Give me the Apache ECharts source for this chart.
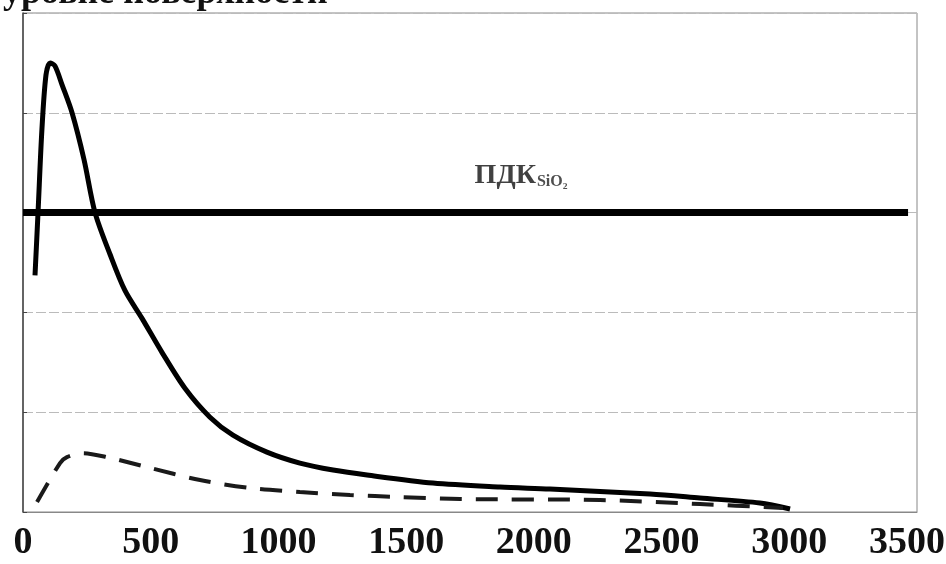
<!DOCTYPE html>
<html lang="ru">
<head>
    <meta charset="UTF-8">
    <title>ПДК</title>
    <script src="https://cdn.jsdelivr.net/npm/echarts@6/dist/echarts.min.js"></script>
    <style>
        html, body { margin: 0; padding: 0; background: #fff; }
    </style>
</head>
<body>
<div id="chart" style="width: 946px;height: 564px;"></div>
<script>
    // расстояние (ось X) и концентрация для сплошной кривой
    var solidX = [47, 59, 74, 90, 106, 125, 153, 192, 239, 282, 341, 399, 466, 544, 634, 732, 822, 955, 1084, 1214, 1347, 1605, 1867, 2063, 2455, 2650, 2885, 3003];
    var solidY = [2.37, 3.01, 3.83, 4.38, 4.50, 4.47, 4.28, 4.00, 3.53, 3.00, 2.58, 2.22, 1.94, 1.60, 1.24, 0.95, 0.77, 0.60, 0.49, 0.42, 0.37, 0.29, 0.25, 0.23, 0.18, 0.14, 0.09, 0.03];
    // пунктирная кривая
    var dashX = [55, 145, 172, 235, 329, 485, 693, 889, 1084, 1280, 1476, 1711, 2259, 2650, 2975];
    var dashY = [0.10, 0.49, 0.55, 0.59, 0.55, 0.45, 0.32, 0.24, 0.20, 0.17, 0.15, 0.13, 0.12, 0.08, 0.04];
    // уровень ПДК
    var pdkLevel = 3;
    var pdkX = [0, 3465];
    var pdkLabelPos = [1950, 3.37];

    function pairs(xs, ys) {
        return xs.map(function (x, i) { return [x, ys[i]]; });
    }

    var serif = '"Liberation Serif", "DejaVu Serif", serif';
    var xMax = 3500;

    var myChart = echarts.init(document.getElementById('chart'));
    var option = {
        backgroundColor: '#fff',
        animation: false,
        title: {
            text: 'уровне поверхности',
            left: -2,
            top: -29,
            textStyle: {
                fontFamily: serif,
                fontWeight: 'bold',
                fontSize: 36,
                color: '#111'
            }
        },
        grid: {
            left: 23,
            right: 29,
            top: 13,
            bottom: 52,
            outerBoundsMode: 'none',
            show: true,
            borderColor: '#888',
            borderWidth: 1
        },
        xAxis: {
            type: 'value',
            min: 0,
            max: xMax,
            interval: 500,
            axisLine: { lineStyle: { color: '#888', width: 1 } },
            axisTick: { show: false },
            splitLine: { show: false },
            axisLabel: {
                margin: 12,
                fontFamily: serif,
                fontWeight: 'bold',
                fontSize: 38,
                color: '#111',
                formatter: function (v) {
                    return v === xMax ? '{m|' + v + '}' : String(v);
                },
                rich: {
                    m: { fontFamily: serif, fontWeight: 'bold', fontSize: 38, color: '#111', padding: [0, 20, 0, 0] }
                }
            }
        },
        yAxis: {
            type: 'value',
            min: 0,
            max: 5,
            interval: 1,
            axisLine: { show: true, lineStyle: { color: '#444', width: 1.5 } },
            axisTick: { show: true, inside: true, length: 4, lineStyle: { color: '#444' } },
            axisLabel: { show: false },
            splitLine: {
                lineStyle: { color: '#bbb', width: 1, type: [10, 3] }
            }
        },
        series: [{
            name: 'ПДК',
            type: 'line',
            symbol: 'none',
            lineStyle: { color: '#000', width: 7 },
            data: pairs(pdkX, [pdkLevel, pdkLevel])
        }, {
            name: 'подпись',
            type: 'scatter',
            symbolSize: 0,
            silent: true,
            label: {
                show: true,
                position: 'inside',
                formatter: '{a|ПДК}{b|SiO₂}',
                rich: {
                    a: { fontFamily: serif, fontWeight: 'bold', fontSize: 28, color: '#111' },
                    b: { fontFamily: serif, fontWeight: 'bold', fontSize: 16, color: '#222', padding: [12, 0, 0, 1] }
                }
            },
            data: [pdkLabelPos]
        }, {
            name: 'сплошная',
            type: 'line',
            symbol: 'none',
            smooth: 0.3,
            lineStyle: { color: '#000', width: 5 },
            data: pairs(solidX, solidY)
        }, {
            name: 'пунктир',
            type: 'line',
            symbol: 'none',
            smooth: 0.3,
            lineStyle: { color: '#1a1a1a', width: 4, type: [22, 14] },
            data: pairs(dashX, dashY)
        }]
    };
    myChart.setOption(option);
</script>
</body>
</html>
